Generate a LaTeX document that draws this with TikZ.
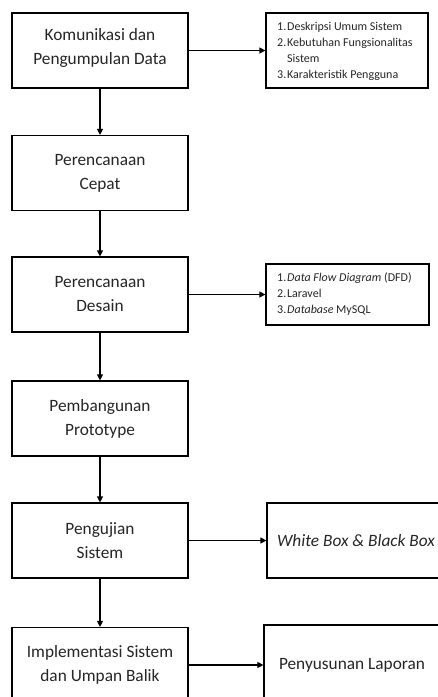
\documentclass[tikz,border=0pt]{standalone}
\usepackage{fontspec}
\setmainfont{Carlito}
\usetikzlibrary{arrows.meta}
\begin{document}
\begin{tikzpicture}[x=1pt,y=-1pt,
  mainbox/.style={draw=black,line width=1.2pt,minimum width=176pt,minimum height=75pt,inner sep=0pt,align=center,font=\fontsize{17.3}{24}\selectfont,text=black!85},
  sidebox/.style={draw=black,line width=1.2pt,inner sep=0pt,align=center,font=\fontsize{17.3}{24}\selectfont,text=black!85},
  listtext/.style={inner sep=0pt,align=left,anchor=west,font=\fontsize{12}{16}\selectfont,text=black!85},
  conn/.style={line width=1.2pt,-{Triangle[length=6pt,width=6pt]}}]
\useasboundingbox (0,0) rectangle (438,697);
\clip (0,0) rectangle (438,697);
\fill[white] (0,0) rectangle (438,697);
% main column
\node[mainbox] (b1) at (100,50.5) {};
\node[inner sep=0pt,align=center,font=\fontsize{17.3}{24}\selectfont,text=black!85] (b1t) at (100,48) {Komunikasi dan\\Pengumpulan Data};
\node[mainbox] (b2) at (100,173) {Perencanaan\\Cepat};
\node[mainbox] (b3) at (100,294.5) {Perencanaan\\Desain};
\node[mainbox] (b4) at (100,418.5) {Pembangunan\\Prototype};
\node[mainbox] (b5) at (100,540.5) {Pengujian\\Sistem};
\node[mainbox] (b6) at (100,665) {Implementasi Sistem\\dan Umpan Balik};
% side boxes
\node[sidebox,minimum width=162pt,minimum height=75pt] (r1) at (347,50.5) {};
\node[listtext] (r1t) at (277,51) {\makebox[10pt][l]{1.}Deskripsi Umum Sistem\\\makebox[10pt][l]{2.}Kebutuhan Fungsionalitas\\\hspace*{10pt}Sistem\\\makebox[10pt][l]{3.}Karakteristik Pengguna};
\node[sidebox,minimum width=163pt,minimum height=61pt] (r2) at (347.5,294.5) {};
\node[listtext] (r2t) at (277,294) {\makebox[10pt][l]{1.}\textit{Data Flow Diagram} (DFD)\\\makebox[10pt][l]{2.}Laravel\\\makebox[10pt][l]{3.}\textit{Database} MySQL};
\node[sidebox,minimum width=178pt,minimum height=75pt] (r3) at (356,540.5) {\textit{White Box \& Black Box}};
\node[sidebox,minimum width=176pt,minimum height=80pt] (r4) at (352,665) {Penyusunan Laporan};
% connectors
\draw[conn] (b1) -- (b2);
\draw[conn] (b2) -- (b3);
\draw[conn] (b3) -- (b4);
\draw[conn] (b4) -- (b5);
\draw[conn] (b5) -- (b6);
\draw[conn] (b1.east) -- (r1.west);
\draw[conn] (b3.east) -- (r2.west);
\draw[conn] (b5.east) -- (r3.west);
\draw[conn] (b6.east) -- (r4.west);
\end{tikzpicture}
\end{document}
